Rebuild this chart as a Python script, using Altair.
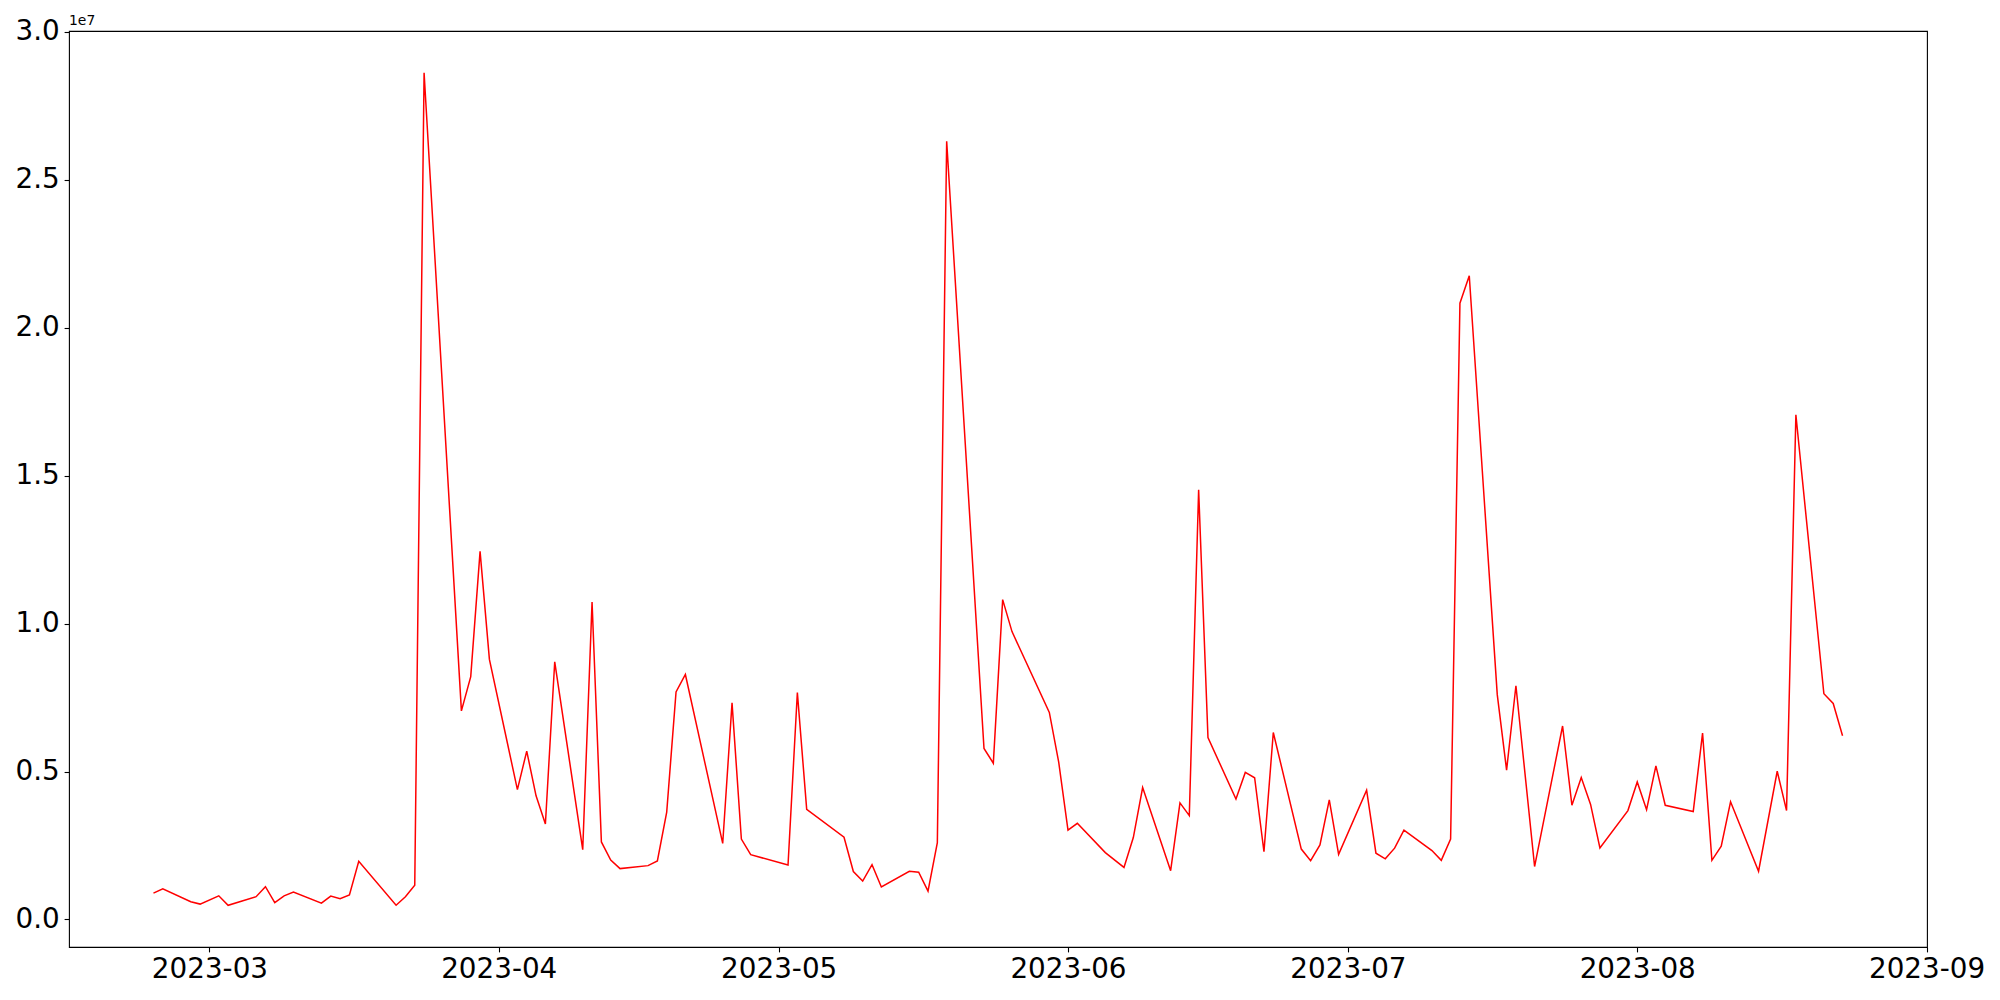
import altair as alt
import pandas as pd

dates = [
    "2023-02-23", "2023-02-24", "2023-02-27", "2023-02-28", "2023-03-02", "2023-03-03",
    "2023-03-06", "2023-03-07", "2023-03-08", "2023-03-09", "2023-03-10",
    "2023-03-13", "2023-03-14", "2023-03-15", "2023-03-16", "2023-03-17",
    "2023-03-21", "2023-03-22", "2023-03-23", "2023-03-24",
    "2023-03-28", "2023-03-29", "2023-03-30", "2023-03-31",
    "2023-04-03", "2023-04-04", "2023-04-05", "2023-04-06", "2023-04-07",
    "2023-04-10", "2023-04-11", "2023-04-12", "2023-04-13", "2023-04-14",
    "2023-04-17", "2023-04-18", "2023-04-19", "2023-04-20", "2023-04-21",
    "2023-04-25", "2023-04-26", "2023-04-27", "2023-04-28",
    "2023-05-02", "2023-05-03", "2023-05-04",
    "2023-05-08", "2023-05-09", "2023-05-10", "2023-05-11", "2023-05-12",
    "2023-05-15", "2023-05-16", "2023-05-17", "2023-05-18", "2023-05-19",
    "2023-05-23", "2023-05-24", "2023-05-25", "2023-05-26",
    "2023-05-30", "2023-05-31", "2023-06-01", "2023-06-02",
    "2023-06-05", "2023-06-07", "2023-06-08", "2023-06-09",
    "2023-06-12", "2023-06-13", "2023-06-14", "2023-06-15", "2023-06-16",
    "2023-06-19", "2023-06-20", "2023-06-21", "2023-06-22", "2023-06-23",
    "2023-06-26", "2023-06-27", "2023-06-28", "2023-06-29", "2023-06-30",
    "2023-07-03", "2023-07-04", "2023-07-05", "2023-07-06", "2023-07-07",
    "2023-07-10", "2023-07-11", "2023-07-12", "2023-07-13", "2023-07-14",
    "2023-07-17", "2023-07-18", "2023-07-19", "2023-07-21",
    "2023-07-24", "2023-07-25", "2023-07-26", "2023-07-27", "2023-07-28",
    "2023-07-31", "2023-08-01", "2023-08-02", "2023-08-03", "2023-08-04",
    "2023-08-07", "2023-08-08", "2023-08-09", "2023-08-10", "2023-08-11",
    "2023-08-14", "2023-08-16", "2023-08-17", "2023-08-18",
    "2023-08-21", "2023-08-22", "2023-08-23",
]

values_millions = [
    0.89, 1.04, 0.60, 0.52, 0.80, 0.48,
    0.77, 1.11, 0.57, 0.80, 0.93,
    0.55, 0.79, 0.70, 0.83, 1.97,
    0.48, 0.77, 1.16, 28.62,
    7.05, 8.21, 12.44, 8.79,
    4.39, 5.69, 4.18, 3.23, 8.71,
    2.36, 10.73, 2.62, 2.01, 1.72,
    1.82, 1.98, 3.63, 7.69, 8.28,
    2.57, 7.32, 2.72, 2.19,
    1.84, 7.67, 3.72,
    2.78, 1.62, 1.30, 1.85, 1.10,
    1.63, 1.60, 0.96, 2.60, 26.30,
    5.78, 5.28, 10.81, 9.73,
    7.00, 5.33, 3.02, 3.25,
    2.26, 1.76, 2.77, 4.46,
    1.65, 3.94, 3.51, 14.52, 6.15,
    4.07, 4.97, 4.79, 2.29, 6.32,
    2.38, 1.99, 2.52, 4.04, 2.20,
    4.37, 2.24, 2.05, 2.41, 3.02,
    2.33, 2.00, 2.72, 20.83, 21.76,
    7.60, 5.05, 7.90, 1.79,
    6.54, 3.86, 4.80, 3.89, 2.42,
    3.68, 4.65, 3.71, 5.19, 3.86,
    3.65, 6.30, 2.00, 2.48, 3.98,
    1.63, 5.01, 3.68, 17.06,
    7.63, 7.30, 6.21,
]

y_ticks = [0, 5e6, 1e7, 1.5e7, 2e7, 2.5e7, 3e7]
x_tick_months = [3, 4, 5, 6, 7, 8, 9]
offset_label = ["1e7"]

df = pd.DataFrame({"date": dates, "value": [v * 1e6 for v in values_millions]})

FONT = "DejaVu Sans"

x_enc = alt.X(
    "date:T",
    scale=alt.Scale(
        type="utc",
        domain=[
            alt.DateTime(year=2023, month=2, date=13, hours=22, minutes=48, utc=True),
            alt.DateTime(year=2023, month=9, date=1, hours=1, minutes=12, utc=True),
        ],
    ),
    axis=alt.Axis(
        values=[alt.DateTime(year=2023, month=m, date=1, utc=True) for m in x_tick_months],
        labelExpr="utcFormat(datum.value, '%Y-%m')",
        title=None,
        grid=False,
        domain=False,
        ticks=True,
        tickSize=4.9,
        tickWidth=1.1,
        tickColor="black",
        labelFont=FONT,
        labelFontSize=27.8,
        labelColor="black",
        labelPadding=4,
        labelFlush=False,
        labelOverlap=False,
    ),
)

y_enc = alt.Y(
    "value:Q",
    scale=alt.Scale(domain=[-930000, 30030000], nice=False, zero=False),
    axis=alt.Axis(
        values=y_ticks,
        labelExpr="format(datum.value / 1e7, '.1f')",
        title=None,
        grid=False,
        domain=False,
        ticks=True,
        tickSize=4.9,
        tickWidth=1.1,
        tickColor="black",
        labelFont=FONT,
        labelFontSize=27.8,
        labelColor="black",
        labelPadding=4.9,
        labelFlush=False,
        labelOverlap=False,
    ),
)

line = alt.Chart(df).mark_line(color="red", strokeWidth=1.5).encode(x=x_enc, y=y_enc)

offset_text = alt.Chart(pd.DataFrame({"t": offset_label})).mark_text(
    align="left", baseline="bottom", font=FONT, fontSize=13.9, color="black"
).encode(x=alt.value(0), y=alt.value(-3), text="t:N")

chart = (
    alt.layer(line, offset_text)
    .properties(
        width=1858,
        height=916,
        padding={"left": 61, "top": 23, "right": 65, "bottom": 45},
        autosize=alt.AutoSizeParams(type="none"),
        background="white",
    )
    .configure_view(stroke="black", strokeWidth=1.1, strokeOpacity=1)
)

chart.save("out.html", embed_options={"renderer": "svg", "actions": False})
